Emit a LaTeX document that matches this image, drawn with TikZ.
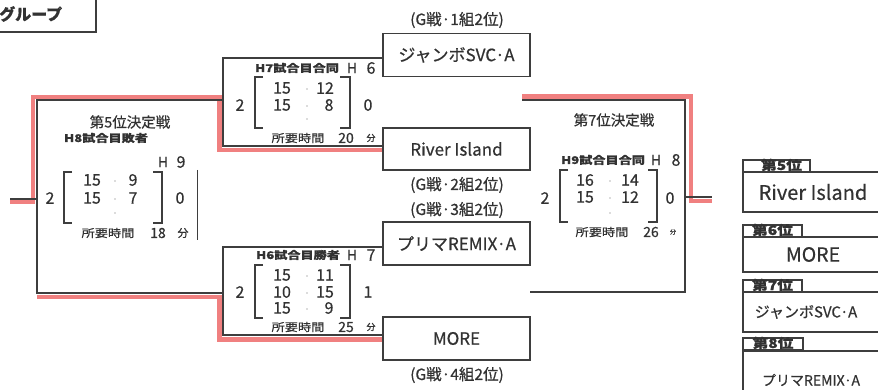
\documentclass[tikz,border=0pt]{standalone}
\usepackage{fontspec}
\setmainfont{Noto Sans CJK JP}[FakeBold=0.6]
\definecolor{dk}{RGB}{62,62,62}
\definecolor{rd}{RGB}{240,128,128}
\definecolor{tx}{RGB}{50,50,50}
\newcommand{\fsz}[1]{\fontsize{#1}{#1}\selectfont}
\newcommand{\wide}[2]{\scalebox{#1}[1]{#2}}
\begin{document}
\begin{tikzpicture}[x=1pt,y=-1pt,
  ln/.style={draw=dk,line width=1.3pt},
  hl/.style={draw=rd,line width=4.5pt},
  team/.style={draw=dk,line width=1.3pt,minimum width=147pt,minimum height=43pt,inner sep=0pt,text=tx,font=\fsz{17}},
  grp/.style={text=tx,font=\fsz{15.5},inner sep=0pt},
  sc/.style={text=tx,font=\fsz{16},inner sep=0pt},
  lab/.style={text=tx,font=\bfseries\fsz{10.5},inner sep=0pt},
  tm/.style={text=tx,font=\fsz{11},inner sep=0pt},
  ttl/.style={text=tx,font=\fsz{14.5},inner sep=0pt},
  brk/.style={draw=dk,line width=1.6pt},
  dotc/.style={fill=gray!55},
  tabbox/.style={draw=dk,line width=1.3pt,inner sep=0pt,minimum height=12pt,text height=9pt,text depth=1pt,text=tx,font=\bfseries\fsz{13}},
  resbox/.style={draw=dk,line width=1.5pt,inner sep=0pt,minimum width=140pt,text=tx}
]
\useasboundingbox (0,0) rectangle (878,390);
\clip (0,0) rectangle (878,390);

% top-left group box
\node[draw=dk,line width=2.2pt,minimum width=110pt,minimum height=45pt,anchor=south east,inner sep=0pt] (grpbox) at (97,33) {};
\node[anchor=west,inner sep=0pt,text=tx,font=\bfseries\fsz{16}] (grptxt) at (-1,14) {グループ};

% team boxes
\node[team] (jumbo) at (456.5,55) {ジャンボSVC·A};
\node[team,minimum height=42pt] (river) at (456.5,149) {River Island};
\node[team] (purima) at (456.5,243.5) {プリマREMIX·A};
\node[team] (more) at (456.5,338.5) {MORE};

\node[grp] (g1) at (457,20) {(G戦·1組2位)};
\node[grp] (g2) at (457,185) {(G戦·2組2位)};
\node[grp] (g3) at (457,210) {(G戦·3組2位)};
\node[grp] (g4) at (457,375) {(G戦·4組2位)};

% free ends
\coordinate (out5r) at (10,202);
\coordinate (out5) at (10,199);
\coordinate (h8top) at (223,100);
\coordinate (h8bot) at (223,293);
\coordinate (h8red) at (37,297);
\coordinate (h7r) at (522,100);
\coordinate (h7rr) at (522,96.5);
\coordinate (h6r) at (530,292);
\coordinate (out7) at (712,197);
\coordinate (out7r) at (712,201);

% highlighted (winner) paths
\draw[hl] ([yshift=-1pt]river.west) -| (219.5,97) -| (33,202) -- (out5r);
\draw[hl] ([yshift=-1pt]more.west) -| (219.5,297) -- (h8red);
\draw[hl] (h7rr) -| (691,201) -- (out7r);

% bracket lines
\draw[ln] ([yshift=-3pt]jumbo.west) -| (223,146) -- ([yshift=3pt]river.west);
\draw[ln] ([yshift=-3.5pt]purima.west) -| (223,335) -- ([yshift=3.5pt]more.west);
\draw[ln] (h8top) -| (37,293) -- (h8bot);
\draw[ln] (37,199) -- (out5);
\draw[ln] (h7r) -| (685,292) -- (h6r);
\draw[ln] (685,197) -- (out7);

% ---------- H7 ----------
\node[lab] (l7) at (297,68) {\wide{1.25}{H7試合目合同}};
\node[sc,font=\fsz{14}] (l7h) at (352,68) {H};
\node[sc] (l7n) at (371,68) {6};
\node[sc] (s7w) at (240,105) {2};
\node[sc] (s7l) at (368,105) {0};
\draw[brk] (263,77) -- (255,77) -- (255,128) -- (263,128);
\draw[brk] (340,77) -- (350,77) -- (350,128) -- (340,128);
\node[sc] (s7a1) at (282,88) {15};
\node[sc] (s7b1) at (325,88) {12};
\node[sc] (s7a2) at (282,105) {15};
\node[sc] (s7b2) at (329,105) {8};
\fill[dotc] (307,89) circle (0.9);
\fill[dotc] (307,106) circle (0.9);
\fill[dotc] (307,119) circle (0.9);
\node[tm] (t7a) at (298,138) {\wide{1.2}{所要時間}};
\node[sc,font=\fsz{14}] (t7b) at (346,138) {20};
\node[tm,font=\fsz{9}] (t7c) at (371,138) {分};

% ---------- H6 ----------
\node[lab] (l6) at (298,255) {\wide{1.25}{H6試合目勝者}};
\node[sc,font=\fsz{14}] (l6h) at (352,255) {H};
\node[sc] (l6n) at (371,255) {7};
\node[sc] (s6w) at (240,292) {2};
\node[sc] (s6l) at (368,292) {1};
\draw[brk] (263,265) -- (255,265) -- (255,318) -- (263,318);
\draw[brk] (340,265) -- (350,265) -- (350,318) -- (340,318);
\node[sc] (s6a1) at (282,275) {15};
\node[sc] (s6b1) at (325,275) {11};
\node[sc] (s6a2) at (282,292) {10};
\node[sc] (s6b2) at (325,292) {15};
\node[sc] (s6a3) at (282,308) {15};
\node[sc] (s6b3) at (329,308) {9};
\fill[dotc] (307,276) circle (0.9);
\fill[dotc] (307,293) circle (0.9);
\fill[dotc] (307,309) circle (0.9);
\node[tm] (t6a) at (298,327) {\wide{1.2}{所要時間}};
\node[sc,font=\fsz{14}] (t6b) at (346,327) {25};
\node[tm,font=\fsz{9}] (t6c) at (371,327) {分};

% ---------- H8 (5th place) ----------
\node[ttl] (ti5) at (130,122) {第5位決定戦};
\node[lab] (l8) at (106,138) {\wide{1.25}{H8試合目敗者}};
\node[sc,font=\fsz{14}] (l8h) at (163,162) {H};
\node[sc] (l8n) at (181,162) {9};
\node[sc] (s8w) at (50,198) {2};
\node[sc] (s8l) at (180,198) {0};
\draw[brk] (72,172) -- (64,172) -- (64,223) -- (72,223);
\draw[brk] (153,172) -- (162,172) -- (162,223) -- (153,223);
\node[sc] (s8a1) at (92,180) {15};
\node[sc] (s8b1) at (133,180) {9};
\node[sc] (s8a2) at (92,198) {15};
\node[sc] (s8b2) at (133,198) {7};
\fill[dotc] (115,181) circle (0.9);
\fill[dotc] (115,199) circle (0.9);
\fill[dotc] (115,213) circle (0.9);
\node[tm] (t8a) at (108,233) {\wide{1.2}{所要時間}};
\node[sc,font=\fsz{14}] (t8b) at (158,233) {18};
\node[tm] (t8c) at (183,233) {分};
\draw[draw=dk,line width=1pt] (197,170) -- (197,240);

% ---------- H9 (7th place) ----------
\node[ttl] (ti7) at (614,120) {第7位決定戦};
\node[lab] (l9) at (603,160) {\wide{1.25}{H9試合目合同}};
\node[sc,font=\fsz{14}] (l9h) at (656,160) {H};
\node[sc] (l9n) at (676,160) {8};
\node[sc] (s9w) at (545,198) {2};
\node[sc] (s9l) at (670,198) {0};
\draw[brk] (568,170) -- (560,170) -- (560,222) -- (568,222);
\draw[brk] (648,170) -- (657,170) -- (657,222) -- (648,222);
\node[sc] (s9a1) at (585,180) {16};
\node[sc] (s9b1) at (630,180) {14};
\node[sc] (s9a2) at (585,197) {15};
\node[sc] (s9b2) at (630,197) {12};
\fill[dotc] (610,181) circle (0.9);
\fill[dotc] (610,198) circle (0.9);
\fill[dotc] (610,213) circle (0.9);
\node[tm] (t9a) at (602,232) {\wide{1.2}{所要時間}};
\node[sc,font=\fsz{14}] (t9b) at (651,232) {26};
\node[tm,font=\fsz{6}] (t9c) at (673,232) {分};

% ---------- results ----------
\node[tabbox,minimum width=67pt] (tab5) at (776.5,166) {\hspace{10pt}\wide{1.2}{第5位}};
\node[resbox,minimum height=40pt,font=\fsz{20}] (res5) at (813,192) {River Island};
\node[tabbox,minimum width=59pt] (tab6) at (772.5,231) {\wide{1.2}{第6位}};
\node[resbox,minimum height=35pt,font=\fsz{19.5}] (res6) at (813,254.5) {MORE};
\node[tabbox,minimum width=59pt] (tab7) at (772.5,286) {\wide{1.2}{第7位}};
\node[resbox,minimum height=40pt,font=\fsz{15}] (res7) at (813,312) {\hspace{-14pt}ジャンボSVC·A};
\node[tabbox,minimum width=60pt] (tab8) at (773,344) {\wide{1.2}{第8位}};
\node[resbox,minimum height=50pt,anchor=north] (res8) at (813,350) {};
\node[inner sep=0pt,text=tx,font=\fsz{14}] (res8t) at (811,380) {プリマREMIX·A};
\end{tikzpicture}
\end{document}
